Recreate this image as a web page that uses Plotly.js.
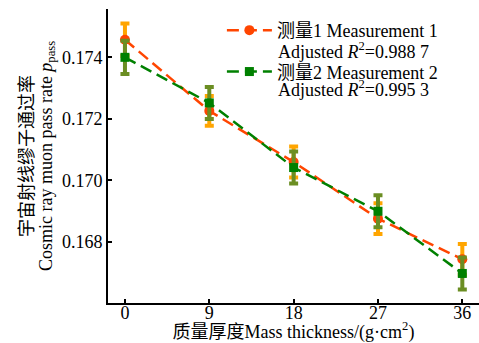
<!DOCTYPE html>
<html>
<head>
<meta charset="utf-8">
<script src="https://cdn.plot.ly/plotly-3.0.1.min.js"></script>
<style>html,body{margin:0;padding:0;background:#fff;}#chart{width:479px;height:343px;}</style>
</head>
<body>
<div id="chart"></div>
<script>
const thickness = [0, 9, 18, 27, 36];
const rate1 = [0.17457, 0.17226, 0.17060, 0.16876, 0.16744];
const err1 = [0.00053, 0.00048, 0.00050, 0.00050, 0.00050];
const rate2 = [0.17400, 0.17252, 0.17042, 0.16900, 0.16698];
const err2 = [0.00054, 0.00052, 0.00052, 0.00052, 0.00052];
const name1 = '测量1 Measurement 1';
const name2 = '测量2 Measurement 2';
const fit1 = 'Adjusted <i>R</i><sup>2</sup>=0.988 7';
const fit2 = 'Adjusted <i>R</i><sup>2</sup>=0.995 3';
const xTicks = [0, 9, 18, 27, 36];
const yTicks = [0.168, 0.170, 0.172, 0.174];
const yTitleZh = '宇宙射线缪子通过率';
const yTitleEn = 'Cosmic ray muon pass rate <i>p</i><sub>pass</sub>';
const xTitle = '质量厚度Mass thickness/(g·cm<sup>2</sup>)';

const FONT = '"Liberation Serif", "Times New Roman", "Noto Sans CJK SC", serif';

const traces = [
  {
    x: thickness, y: rate1, name: name1, legendgroup: 'a', type: 'scatter', mode: 'lines+markers',
    line: {color: '#FF4500', width: 2.5, dash: '12px,6px'},
    marker: {color: '#FF4500', size: 10, symbol: 'circle'},
    error_y: {type: 'data', array: err1, visible: true, color: '#FFA500', thickness: 4, width: 4.5}
  },
  {
    x: thickness, y: rate2, name: name2, legendgroup: 'b', type: 'scatter', mode: 'lines+markers',
    line: {color: '#008000', width: 2.5, dash: '12px,6px'},
    marker: {color: '#008000', size: 9, symbol: 'square'},
    error_y: {type: 'data', array: err2, visible: true, color: '#6B8E23', thickness: 4, width: 4.5}
  }
];

const layout = {
  width: 479, height: 343,
  margin: {l: 108, r: 0, t: 9, b: 40},
  paper_bgcolor: '#fff', plot_bgcolor: '#fff',
  font: {family: FONT, size: 18, color: '#000'},
  showlegend: true,
  legend: {
    x: 0.307, y: 0.99, xanchor: 'left', yanchor: 'top',
    bgcolor: 'rgba(0,0,0,0)', borderwidth: 0,
    font: {family: FONT, size: 18, color: '#000'},
    itemwidth: 45, tracegroupgap: 15
  },
  annotations: [
    {xref: 'paper', yref: 'paper', x: 0.4528, y: 0.86, xanchor: 'left', yanchor: 'middle',
     text: fit1, showarrow: false, font: {family: FONT, size: 18, color: '#000'}},
    {xref: 'paper', yref: 'paper', x: 0.4528, y: 0.728, xanchor: 'left', yanchor: 'middle',
     text: fit2, showarrow: false, font: {family: FONT, size: 18, color: '#000'}},
    {xref: 'paper', yref: 'paper', x: -0.2183, y: 0.5, xanchor: 'center', yanchor: 'middle',
     textangle: -90, text: yTitleZh, showarrow: false, font: {family: FONT, size: 18, color: '#000'}}
  ],
  xaxis: {
    range: [-1.81, 37.78], tickvals: xTicks, ticktext: xTicks.map(String),
    showline: true, linecolor: '#000', linewidth: 2, mirror: false,
    ticks: 'inside', ticklen: 4, tickwidth: 2, tickcolor: '#000',
    showgrid: false, zeroline: false, ticklabelstandoff: -8,
    tickfont: {family: FONT, size: 18},
    title: {text: xTitle, font: {family: FONT, size: 18}, standoff: 0}
  },
  yaxis: {
    range: [0.16602, 0.17557], tickvals: yTicks, tickformat: '.3f',
    showline: true, linecolor: '#000', linewidth: 2, mirror: false,
    ticks: 'inside', ticklen: 4, tickwidth: 2, tickcolor: '#000',
    showgrid: false, zeroline: false,
    tickfont: {family: FONT, size: 18},
    title: {text: yTitleEn, font: {family: FONT, size: 18}, standoff: 5}
  }
};

Plotly.newPlot('chart', traces, layout, {displayModeBar: false, staticPlot: true});
</script>
</body>
</html>
